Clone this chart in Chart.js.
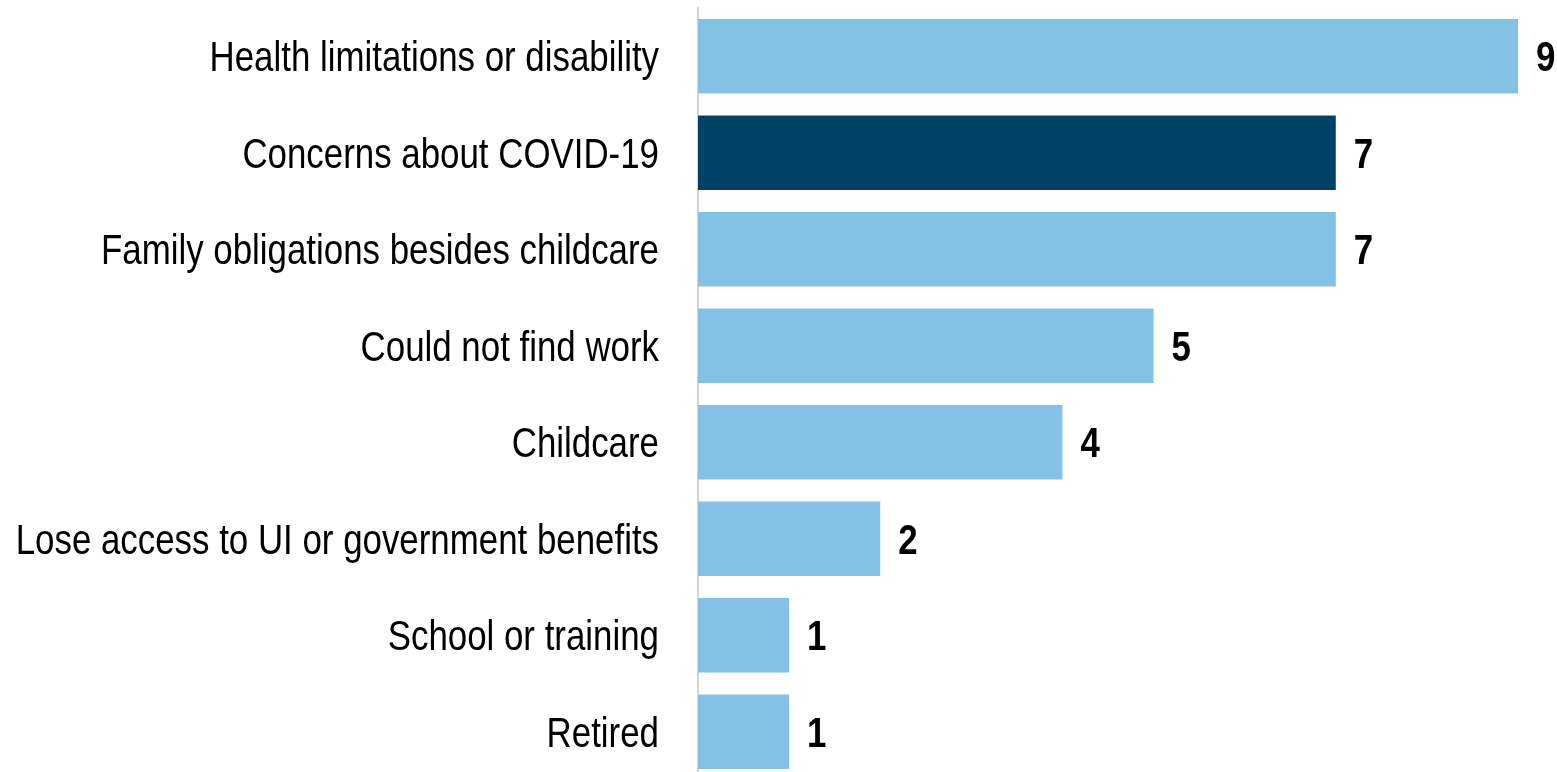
<!DOCTYPE html>
<html>
<head>
<meta charset="utf-8">
<script src="https://cdn.jsdelivr.net/npm/chart.js@4/dist/chart.umd.min.js"></script>
<style>
    html, body { margin: 0; padding: 0; background: #fff; overflow: hidden; }
    #wrap { width: 1557px; height: 780px; position: relative; }
</style>
</head>
<body>
<div id="wrap"><canvas id="reasons-chart"></canvas></div>
<script>
var categories = [
    'Health limitations or disability',
    'Concerns about COVID-19',
    'Family obligations besides childcare',
    'Could not find work',
    'Childcare',
    'Lose access to UI or government benefits',
    'School or training',
    'Retired'
];
var counts = [9, 7, 7, 5, 4, 2, 1, 1];
var highlighted = [false, true, false, false, false, false, false, false];

var LIGHT = '#83c1e5';
var DARK = '#004266';
var FONT = '"Liberation Sans", Arial, sans-serif';
var NARROW = 0.83;   // squeeze text horizontally, narrow-face look

function narrowText(ctx, text, x, y, align) {
    ctx.save();
    ctx.translate(x, y);
    ctx.scale(NARROW, 1);
    ctx.textAlign = align;
    ctx.textBaseline = 'alphabetic';
    ctx.fillText(text, 0, 0);
    ctx.restore();
}

// category names on the left, counts past the end of each bar
var barLabels = {
    id: 'barLabels',
    afterDatasetsDraw: function (chart) {
        var ctx = chart.ctx;
        var meta = chart.getDatasetMeta(0);
        var left = chart.chartArea.left;
        ctx.save();
        ctx.fillStyle = '#000';
        meta.data.forEach(function (bar, i) {
            ctx.font = '42px ' + FONT;
            narrowText(ctx, categories[i], left - 39, bar.y + 15, 'right');
            ctx.font = 'bold 42px ' + FONT;
            narrowText(ctx, String(counts[i]), bar.x + 18, bar.y + 15, 'left');
        });
        ctx.restore();
    }
};

var ctx = document.getElementById('reasons-chart').getContext('2d');
new Chart(ctx, {
    type: 'bar',
    data: {
        labels: categories,
        datasets: [{
            data: counts,
            backgroundColor: highlighted.map(function (h) { return h ? DARK : LIGHT; }),
            borderWidth: 0,
            categoryPercentage: 1,
            barPercentage: 0.77
        }]
    },
    options: {
        indexAxis: 'y',
        responsive: true,
        maintainAspectRatio: false,
        animation: false,
        layout: { padding: { top: 8, right: 39, left: 698, bottom: 0 } },
        plugins: {
            legend: { display: false },
            tooltip: { enabled: false }
        },
        scales: {
            x: {
                min: 0,
                max: 9,
                display: false
            },
            y: {
                grid: { display: false, drawTicks: false },
                border: { display: true, color: '#d4d4d4', width: 2 },
                ticks: { display: false }
            }
        }
    },
    plugins: [barLabels]
});
</script>
</body>
</html>
